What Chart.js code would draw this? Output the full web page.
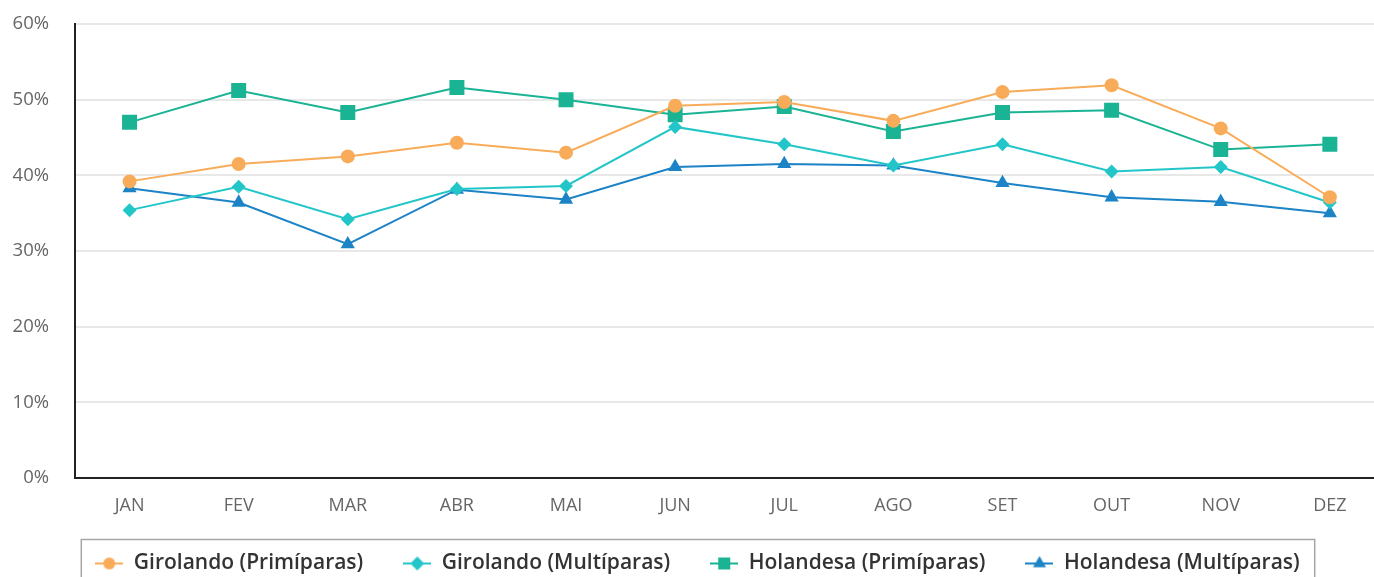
<!DOCTYPE html>
<html>
<head>
<meta charset="utf-8">
<script src="https://cdn.jsdelivr.net/npm/chart.js@4.4.0/dist/chart.umd.min.js"></script>
<style>
  html, body { margin: 0; padding: 0; background: #fff; overflow: hidden; }
</style>
</head>
<body>
<canvas id="myChart" width="1395" height="594"></canvas>
<script>
// month labels and series (percent)
const months = ["JAN", "FEV", "MAR", "ABR", "MAI", "JUN", "JUL", "AGO", "SET", "OUT", "NOV", "DEZ"];
const girolandoPrim = [39.2, 41.5, 42.5, 44.3, 43.0, 49.2, 49.7, 47.2, 51.0, 51.9, 46.2, 37.1];
const girolandoMult = [35.4, 38.5, 34.2, 38.2, 38.6, 46.4, 44.1, 41.3, 44.1, 40.5, 41.1, 36.4];
const holandesaPrim = [47.0, 51.2, 48.3, 51.6, 50.0, 48.0, 49.1, 45.8, 48.3, 48.6, 43.4, 44.1];
const holandesaMult = [38.3, 36.4, 30.9, 38.1, 36.8, 41.1, 41.5, 41.3, 39.0, 37.1, 36.5, 35.0];
const yTicks = [0, 10, 20, 30, 40, 50, 60];

const ctx = document.getElementById("myChart").getContext("2d");

// series styling
const series = [
  { label: "Girolando (Primíparas)", data: girolandoPrim, color: "#f8ac59", style: "circle", radius: 7, iconRadius: 6 },
  { label: "Girolando (Multíparas)", data: girolandoMult, color: "#23c6c8", style: "rectRot", radius: 7, iconRadius: 7 },
  { label: "Holandesa (Primíparas)", data: holandesaPrim, color: "#1ab394", style: "rect", radius: 10.6, iconRadius: 8.5 },
  { label: "Holandesa (Multíparas)", data: holandesaMult, color: "#1c84c6", style: "triangle", radius: 8.2, iconRadius: 7.5 },
];

// little "line + marker" icons for the legend
function makeIcon(s) {
  const c = document.createElement("canvas");
  c.width = 28;
  c.height = 18;
  const g = c.getContext("2d");
  g.strokeStyle = s.color;
  g.fillStyle = s.color;
  g.lineWidth = 2;
  g.beginPath();
  g.moveTo(0, 9);
  g.lineTo(28, 9);
  g.stroke();
  Chart.helpers.drawPoint(g, { pointStyle: s.style, radius: s.iconRadius, borderWidth: 0, rotation: 0 }, 14, 9);
  return c;
}
const legendIcons = series.map(makeIcon);

// pull the legend up a bit so the x labels keep room for descenders
const legendLift = {
  id: "legendLift",
  afterLayout(chart) {
    chart.legend.top -= 10;
    chart.legend.bottom -= 10;
  }
};

// frame around the legend
const legendBorder = {
  id: "legendBorder",
  afterDraw(chart) {
    const boxes = chart.legend.legendHitBoxes;
    if (!boxes || !boxes.length) return;
    const first = boxes[0];
    const last = boxes[boxes.length - 1];
    const left = first.left - 14;
    const right = last.left + last.width + 15;
    const top = first.top + first.height / 2 - 24;
    const c = chart.ctx;
    c.save();
    c.strokeStyle = "#a6a6a6";
    c.lineWidth = 1.5;
    c.strokeRect(left, top, right - left, 200);
    c.restore();
  }
};

const chart = new Chart(ctx, {
  type: "line",
  data: {
    labels: months,
    datasets: series.map(s => ({
      label: s.label,
      data: s.data,
      borderColor: s.color,
      backgroundColor: s.color,
      pointBackgroundColor: s.color,
      pointBorderColor: s.color,
      pointBorderWidth: 0,
      pointStyle: s.style,
      pointRadius: s.radius,
      pointHoverRadius: s.radius,
      borderWidth: 2,
      tension: 0,
      fill: false,
    })),
  },
  options: {
    responsive: false,
    animation: false,
    layout: { padding: { top: 24, left: 0, right: 0, bottom: 0 } },
    font: { family: "'Open Sans', sans-serif" },
    plugins: {
      tooltip: { enabled: false },
      legend: {
        display: true,
        position: "bottom",
        labels: {
          usePointStyle: true,
          pointStyleWidth: 28,
          padding: 40,
          color: "#333",
          font: { family: "'Open Sans', sans-serif", size: 21, weight: "600" },
          generateLabels(chart) {
            const items = Chart.defaults.plugins.legend.labels.generateLabels(chart);
            items.forEach((it, i) => { it.pointStyle = legendIcons[i]; });
            return items;
          },
        },
      },
    },
    scales: {
      x: {
        offset: true,
        grid: { display: true, drawOnChartArea: false, drawTicks: false },
        border: { display: true, color: "#222", width: 2 },
        ticks: { color: "#666", padding: 17, font: { size: 18 } },
        afterFit(scale) { scale.height = 45; },
      },
      y: {
        min: 0,
        max: 60,
        afterBuildTicks(scale) { scale.ticks = yTicks.map(v => ({ value: v })); },
        grid: { color: "#e8e8e8", lineWidth: 2, drawTicks: false },
        border: { display: true, color: "#222", width: 2 },
        ticks: { color: "#666", padding: 26, font: { size: 18.5 }, callback: v => v + "%" },
        afterFit(scale) {
          scale.width = 75;
          scale.paddingTop = 0;
          scale.paddingBottom = 0;
        },
      },
    },
  },
  plugins: [legendLift, legendBorder],
});
</script>
</body>
</html>
